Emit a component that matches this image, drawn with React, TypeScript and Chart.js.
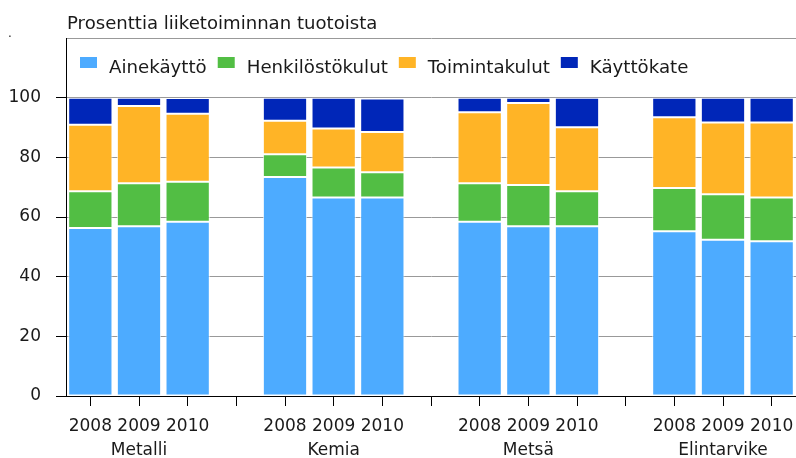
import { useEffect, useRef } from 'react';
import { Chart, registerables } from 'chart.js';
Chart.register(...registerables);

const groups = ['Metalli', 'Kemia', 'Metsä', 'Elintarvike'];
const years = ['2008', '2009', '2010'];
const seriesNames = ['Ainekäyttö', 'Henkilöstökulut', 'Toimintakulut', 'Käyttökate'];
const seriesColors = ['#4dabff', '#52be44', '#ffb426', '#0026b8'];
const ainekaytto = [56.3, 56.9, 58.4, 73.4, 66.5, 66.5, 58.4, 56.9, 56.9, 55.2, 52.4, 51.9];
const henkilostokulut = [12.3, 14.4, 13.4, 7.6, 10.1, 8.5, 12.9, 13.8, 11.7, 14.5, 15.2, 14.6];
const toimintakulut = [22.3, 25.9, 22.8, 11.3, 13.1, 13.5, 23.8, 27.5, 21.5, 23.7, 24.1, 25.2];
const kayttokate = [9.1, 2.8, 5.3, 7.7, 10.3, 11.2, 4.9, 1.8, 9.9, 6.6, 8.3, 8.3];
const yTickLabels = [0, 20, 40, 60, 80, 100];
const yMax = 120;
const chartTitle = 'Prosenttia liiketoiminnan tuotoista';

const FONT = '"DejaVu Sans", sans-serif';
const TEXT = '#1a1a1a';

function buildLabels(): (string | string[])[] {
  const out: (string | string[])[] = [];
  groups.forEach((g, gi) => {
    years.forEach((y, i) => out.push([y, i === 1 ? g : '']));
    if (gi < groups.length - 1) out.push(['', '']);
  });
  return out;
}

function withGaps(values: number[]): (number | null)[] {
  const out: (number | null)[] = [];
  groups.forEach((_, gi) => {
    years.forEach((_, i) => out.push(values[gi * years.length + i]));
    if (gi < groups.length - 1) out.push(null);
  });
  return out;
}

const titlePlugin = {
  id: 'leftTitle',
  afterDraw(chart: any) {
    const { ctx, chartArea } = chart;
    ctx.save();
    ctx.fillStyle = TEXT;
    ctx.textBaseline = 'alphabetic';
    ctx.textAlign = 'left';
    ctx.font = `18.1px ${FONT}`;
    ctx.fillText(chartTitle, chartArea.left + 1, 29);
    ctx.font = `12px ${FONT}`;
    ctx.fillText('.', 8, 37);
    ctx.restore();
  },
};

const legendPlugin = {
  id: 'insideLegend',
  afterDraw(chart: any) {
    const { ctx, chartArea } = chart;
    ctx.save();
    ctx.font = `18.2px ${FONT}`;
    ctx.textBaseline = 'alphabetic';
    ctx.textAlign = 'left';
    let x = chartArea.left + 14;
    const top = chartArea.top + 19;
    chart.data.datasets.forEach((ds: any) => {
      ctx.fillStyle = ds.backgroundColor;
      ctx.fillRect(x, top, 17, 11);
      ctx.fillStyle = TEXT;
      ctx.fillText(ds.label, x + 29, top + 15.5);
      x += 29 + ctx.measureText(ds.label).width + 11;
    });
    ctx.restore();
  },
};

export default function App() {
  const ref = useRef<HTMLCanvasElement | null>(null);
  useEffect(() => {
    document.body.style.margin = '0';
    if (!ref.current) return;
    const seriesValues = [ainekaytto, henkilostokulut, toimintakulut, kayttokate];
    const chart = new Chart(ref.current, {
      type: 'bar',
      data: {
        labels: buildLabels(),
        datasets: seriesNames.map((name, i) => ({
          label: name,
          data: withGaps(seriesValues[i]),
          backgroundColor: seriesColors[i],
          borderColor: 'rgba(255,255,255,0.75)',
          borderWidth: 1,
          borderSkipped: false,
          barPercentage: 0.91,
          categoryPercentage: 1,
        })),
      },
      options: {
        animation: false,
        responsive: false,
        maintainAspectRatio: false,
        layout: { padding: { top: 38, left: 0, right: 0, bottom: 0 } },
        plugins: {
          legend: { display: false },
          title: { display: false },
          tooltip: { enabled: false },
        },
        scales: {
          x: {
            stacked: true,
            offset: true,
            grid: {
              offset: false,
              drawOnChartArea: false,
              drawTicks: true,
              tickLength: 10,
              tickColor: '#000',
            },
            border: { display: true, color: '#000', width: 1 },
            ticks: {
              autoSkip: false,
              maxRotation: 0,
              minRotation: 0,
              padding: 9,
              color: TEXT,
              font: { family: FONT, size: 17, lineHeight: 1.41 },
            },
            afterFit: (s: any) => {
              s.height = 62;
              s.paddingLeft = 0;
              s.paddingRight = 0;
            },
          },
          y: {
            stacked: true,
            min: 0,
            max: yMax,
            grid: {
              color: (c: any) => (c.tick && c.tick.value === 0 ? '#000' : '#999999'),
              lineWidth: 1,
              drawTicks: true,
              tickLength: 10,
              tickColor: (c: any) => (c.tick && yTickLabels.includes(c.tick.value) ? '#000' : 'rgba(0,0,0,0)'),
            },
            border: { display: true, color: '#000', width: 1 },
            ticks: {
              stepSize: 20,
              padding: 15,
              color: TEXT,
              font: { family: FONT, size: 17 },
              callback: (v: any) => (yTickLabels.includes(Number(v)) ? String(v) : ''),
            },
            afterFit: (s: any) => {
              s.width = 66;
            },
          },
        },
      },
      plugins: [titlePlugin, legendPlugin],
    });
    return () => chart.destroy();
  }, []);
  return (
    <div style={{ width: 796, height: 458 }}>
      <canvas ref={ref} width={796} height={458} style={{ display: 'block' }} />
    </div>
  );
}
